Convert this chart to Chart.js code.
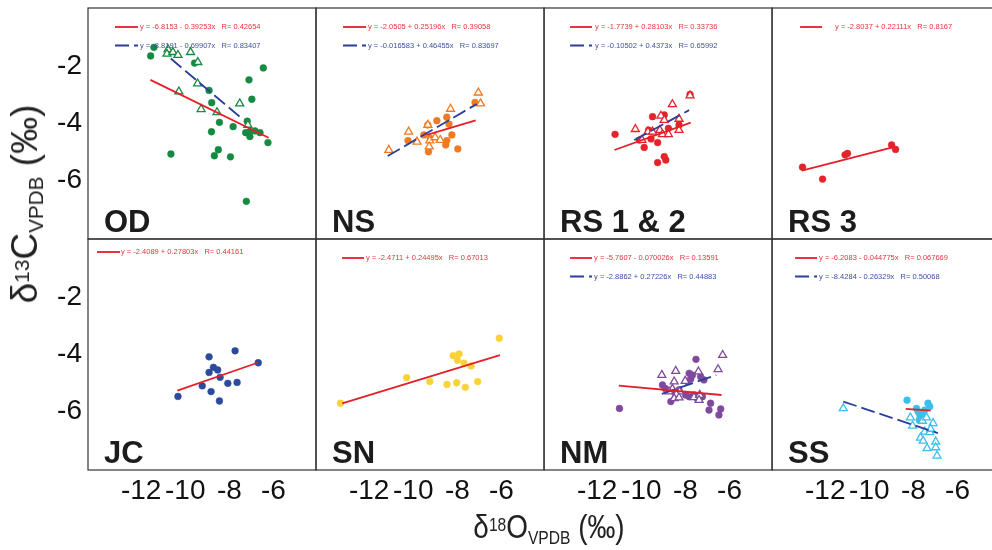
<!DOCTYPE html>
<html>
<head>
<meta charset="utf-8">
<script src="https://cdn.jsdelivr.net/npm/chart.js@4.4.1/dist/chart.umd.min.js"></script>
<style>
html, body { margin: 0; padding: 0; overflow: hidden; background: #fff; }
#wrap { position: absolute; left: 0; top: 0; width: 1006px; height: 550px; }
.title { position: absolute; font-family: "Liberation Sans", Arial, sans-serif; line-height: 36px; color: #222; white-space: nowrap; }
.title sup { font-size: 0.56em; vertical-align: 0.38em; line-height: 0; }
.title sub { font-size: 0.56em; vertical-align: -0.3em; line-height: 0; }
#xtitle { font-size: 34px; left: 549px; top: 508px; transform: translateX(-50%) scaleX(0.82); }
#ytitle { font-size: 37px; left: 25px; top: 204px; transform: translate(-50%, -50%) rotate(-90deg); }
</style>
</head>
<body>
<div id="wrap"><canvas id="chart"></canvas></div>
<div id="ytitle" class="title">δ<sup>13</sup>C<sub>VPDB</sub> (‰)</div>
<div id="xtitle" class="title">δ<sup>18</sup>O<sub>VPDB</sub> (‰)</div>
<script>
'use strict';

var panelNames = ['OD', 'NS', 'RS 1 & 2', 'RS 3', 'JC', 'SN', 'NM', 'SS'];
var xTicks = [-12, -10, -8, -6];
var yTicks = [-2, -4, -6];

var redEquations = [
  'y = -6.8153 - 0.39253x   R= 0.42654',
  'y = -2.0505 + 0.25196x   R= 0.39058',
  'y = -1.7739 + 0.28103x   R= 0.33736',
  'y = -2.8037 + 0.22111x   R= 0.8167',
  'y = -2.4089 + 0.27803x   R= 0.44161',
  'y = -2.4711 + 0.24495x   R= 0.67013',
  'y = -5.7607 - 0.070026x   R= 0.13591',
  'y = -6.2083 - 0.044775x   R= 0.067669'
];
var blueEquations = [
  'y = -8.8191 - 0.69907x   R= 0.83407',
  'y = -0.016583 + 0.46455x   R= 0.83697',
  'y = -0.10502 + 0.4373x   R= 0.65992',
  null, null, null,
  'y = -2.8862 + 0.27226x   R= 0.44883',
  'y = -8.4284 - 0.26329x   R= 0.50068'
];

// OD
var odCircles = [[-11.42,-1.33],[-11.57,-1.63],[-9.58,-1.88],[-6.46,-2.05],[-7.11,-2.47],[-8.92,-2.84],[-6.98,-3.15],[-8.80,-3.27],[-7.19,-3.92],[-8.45,-3.96],[-7.83,-4.11],[-8.81,-4.29],[-7.26,-4.32],[-7.07,-4.29],[-6.84,-4.26],[-6.61,-4.32],[-7.07,-4.46],[-6.25,-4.67],[-10.65,-5.07],[-8.50,-4.92],[-8.68,-5.13],[-7.95,-5.17],[-7.23,-6.73]];
var odTriangles = [[-10.78,-1.40],[-10.83,-1.56],[-10.56,-1.50],[-10.33,-1.60],[-9.76,-1.50],[-9.43,-1.85],[-9.44,-2.60],[-10.29,-2.88],[-9.28,-3.50],[-8.56,-3.61],[-7.53,-3.30],[-7.16,-4.05]];
var odRed = [[-11.58,-2.47],[-6.22,-4.50]];
var odBlue = [[-10.66,-1.72],[-7.47,-3.80]];

// NS
var nsCircles = [[-8.93,-3.90],[-8.48,-3.78],[-8.38,-4.02],[-10.24,-4.60],[-9.52,-4.40],[-9.23,-4.52],[-8.25,-4.40],[-8.48,-4.60],[-8.53,-4.75],[-9.31,-4.99],[-7.98,-4.89],[-7.20,-3.26],[-9.34,-4.05]];
var nsTriangles = [[-11.11,-4.93],[-10.21,-4.29],[-9.83,-4.64],[-9.34,-4.05],[-9.25,-4.60],[-9.01,-4.49],[-8.78,-4.58],[-9.28,-4.81],[-8.31,-3.49],[-7.05,-2.92],[-6.95,-3.30]];
var nsRed = [[-9.38,-4.40],[-7.17,-3.89]];
var nsBlue = [[-11.16,-5.14],[-7.13,-3.32]];

// RS 1 & 2
var rsCircles = [[-11.19,-4.38],[-9.87,-4.84],[-10.09,-4.58],[-9.67,-4.23],[-9.56,-4.54],[-9.26,-4.67],[-9.49,-3.76],[-8.96,-3.70],[-8.77,-4.17],[-8.29,-4.05],[-9.26,-5.37],[-8.96,-5.16],[-8.89,-5.28],[-7.79,-2.98]];
var rsTriangles = [[-10.27,-4.20],[-9.97,-4.58],[-9.70,-4.29],[-9.49,-4.29],[-9.16,-4.23],[-9.04,-4.38],[-8.77,-4.38],[-8.59,-3.33],[-9.11,-3.73],[-8.96,-3.88],[-8.29,-3.84],[-8.29,-4.23],[-7.79,-3.02]];
var rsRed = [[-11.22,-4.93],[-7.76,-3.97]];
var rsBlue = [[-10.32,-4.58],[-7.83,-3.53]];

// RS 3
var rs3Circles = [[-13.03,-5.53],[-12.12,-5.95],[-11.10,-5.10],[-10.99,-5.05],[-8.99,-4.75],[-8.81,-4.91]];
var rs3Red = [[-13.06,-5.65],[-8.95,-4.84]];

// JC
var jcCircles = [[-10.33,-5.47],[-9.23,-5.10],[-8.83,-5.30],[-8.45,-5.63],[-8.92,-4.63],[-8.72,-4.45],[-8.53,-4.54],[-8.42,-4.80],[-8.07,-5.01],[-7.65,-4.98],[-8.92,-4.08],[-7.74,-3.87],[-6.69,-4.29]];
var jcRed = [[-10.36,-5.27],[-6.72,-4.29]];

// SN
var snCircles = [[-13.30,-5.71],[-10.30,-4.81],[-9.25,-4.95],[-8.47,-5.05],[-8.03,-4.99],[-7.64,-5.15],[-7.08,-4.95],[-8.19,-4.04],[-7.92,-3.98],[-8.00,-4.20],[-7.70,-4.30],[-7.38,-4.40],[-6.10,-3.43]];
var snRed = [[-13.22,-5.71],[-6.07,-4.02]];

// NM
var nmCircles = [[-10.99,-5.89],[-7.52,-4.17],[-7.83,-4.66],[-7.68,-4.72],[-7.76,-4.86],[-7.91,-4.95],[-7.31,-4.78],[-7.16,-4.89],[-9.04,-5.07],[-8.92,-5.19],[-8.66,-5.65],[-8.51,-5.30],[-8.29,-5.24],[-7.99,-5.42],[-7.83,-5.48],[-7.61,-5.42],[-7.46,-5.54],[-7.23,-5.48],[-6.86,-5.71],[-6.93,-5.95],[-6.40,-5.91],[-6.48,-6.12]];
var nmTriangles = [[-9.07,-4.72],[-8.44,-4.58],[-7.41,-4.60],[-6.52,-4.52],[-6.31,-4.02],[-8.51,-4.95],[-8.01,-4.93],[-8.59,-5.21],[-8.74,-5.30],[-8.26,-5.30],[-8.41,-5.40],[-8.51,-5.54],[-8.29,-5.51],[-7.61,-5.50],[-7.35,-5.42],[-7.38,-5.60]];
var nmRed = [[-11.02,-5.09],[-6.36,-5.42]];
var nmBlue = [[-9.07,-5.38],[-6.60,-4.72]];

// SS
var ssCircles = [[-8.29,-5.60],[-7.86,-5.89],[-7.79,-6.00],[-7.71,-6.12],[-7.64,-6.06],[-7.56,-6.18],[-7.74,-6.30],[-7.34,-5.71],[-7.26,-5.83],[-7.49,-5.95]];
var ssTriangles = [[-11.18,-5.89],[-8.14,-6.21],[-8.04,-6.50],[-7.11,-6.41],[-7.59,-6.33],[-7.41,-6.21],[-7.68,-6.92],[-7.49,-6.71],[-7.26,-6.73],[-7.22,-6.61],[-7.56,-7.03],[-7.38,-7.29],[-6.99,-7.06],[-6.99,-7.26],[-6.93,-7.55]];
var ssRed = [[-8.35,-5.91],[-7.22,-5.97]];
var ssBlue = [[-11.18,-5.65],[-6.89,-6.76]];

var panels = [
  {color: '#178a42', circles: odCircles, triangles: odTriangles, red: odRed, blue: odBlue},
  {color: '#f07a22', circles: nsCircles, triangles: nsTriangles, red: nsRed, blue: nsBlue},
  {color: '#e4232b', circles: rsCircles, triangles: rsTriangles, red: rsRed, blue: rsBlue},
  {color: '#e4232b', circles: rs3Circles, triangles: null, red: rs3Red, blue: null},
  {color: '#2b4a9c', circles: jcCircles, triangles: null, red: jcRed, blue: null},
  {color: '#f9d23a', circles: snCircles, triangles: null, red: snRed, blue: null},
  {color: '#7f4a9e', circles: nmCircles, triangles: nmTriangles, red: nmRed, blue: nmBlue},
  {color: '#3dbfeb', circles: ssCircles, triangles: ssTriangles, red: ssRed, blue: ssBlue}
];

// legend placement inside each panel: [line start, line end, text start, first row y]
var legendAt = [[27,50,52,19],[27,50,52,19],[26,48,51,19],[28,50,63,19],[9,32,33,13],[26,48,50,19],[26,48,50,19],[23,45,47,19]];

var lineRed = '#e3202a';
var lineBlue = '#2b3f99';
var textRed = '#e2353d';
var textBlue = '#3d4ea1';

function pts(arr) {
  return arr.map(function(p) { return {x: p[0], y: p[1]}; });
}

var datasets = [];
panels.forEach(function(p, i) {
  var xa = 'x' + (i % 4 + 1);
  var ya = i < 4 ? 'yTop' : 'yBot';
  datasets.push({
    data: pts(p.circles), xAxisID: xa, yAxisID: ya, order: 3,
    pointStyle: 'circle', pointRadius: 3.4, borderWidth: 0.5,
    backgroundColor: p.color, borderColor: p.color
  });
  if (p.triangles) {
    datasets.push({
      data: pts(p.triangles), xAxisID: xa, yAxisID: ya, order: 2,
      pointStyle: 'triangle', pointRadius: 4.6, borderWidth: 1.3,
      backgroundColor: '#ffffff', borderColor: p.color
    });
  }
  datasets.push({
    data: pts(p.red), xAxisID: xa, yAxisID: ya, order: 1, panel: i,
    showLine: true, pointRadius: 0, borderColor: lineRed, borderWidth: 1.8
  });
  if (p.blue) {
    datasets.push({
      data: pts(p.blue), xAxisID: xa, yAxisID: ya, order: 1, panel: i,
      showLine: true, pointRadius: 0, borderColor: lineBlue, borderWidth: 1.8,
      borderDash: [14, 5]
    });
  }
});

function fixedTicks(values) {
  return function(axis) {
    axis.ticks = values.map(function(v) { return {value: v}; });
  };
}

var scales = {};
for (var c = 1; c <= 4; c++) {
  scales['x' + c] = {
    type: 'linear', position: 'bottom', stack: 'cols', min: -14.41, max: -4.07,
    grid: {display: false, drawTicks: false}, border: {display: false},
    afterBuildTicks: fixedTicks(xTicks),
    afterFit: function(axis) {
      axis.height = 80;
      axis.paddingLeft = 0;
      axis.paddingRight = 0;
    },
    ticks: {autoSkip: false, maxRotation: 0, minRotation: 0, padding: 4, color: '#111', font: {size: 28}}
  };
}
['yTop', 'yBot'].forEach(function(id, k) {
  scales[id] = {
    type: 'linear', position: 'left', stack: 'rows', weight: 1 - k, min: -8.05, max: 0.05,
    grid: {display: false, drawTicks: false}, border: {display: false},
    afterBuildTicks: fixedTicks(yTicks),
    afterFit: function(axis) {
      axis.width = 88;
      axis.paddingTop = 0;
      axis.paddingBottom = 0;
    },
    ticks: {autoSkip: false, padding: 6, color: '#111', font: {size: 28}}
  };
});

function panelBox(chart, i) {
  var xs = chart.scales['x' + (i % 4 + 1)];
  var ys = chart.scales[i < 4 ? 'yTop' : 'yBot'];
  return {left: xs.left, right: xs.right, top: ys.top, bottom: ys.bottom};
}

var panelDecor = {
  id: 'panelDecor',
  afterDraw: function(chart) {
    var ctx = chart.ctx;
    ctx.save();
    panelNames.forEach(function(name, i) {
      var b = panelBox(chart, i);
      ctx.strokeStyle = '#333';
      ctx.lineWidth = 1.2;
      ctx.setLineDash([]);
      ctx.strokeRect(b.left, b.top, b.right - b.left, b.bottom - b.top);

      ctx.fillStyle = '#1c1c1c';
      ctx.font = 'bold 31px "Liberation Sans", Arial, sans-serif';
      ctx.textAlign = 'left';
      ctx.textBaseline = 'alphabetic';
      ctx.fillText(name, b.left + 16, b.bottom - 7);

      var lg = legendAt[i];
      var rowsText = [[redEquations[i], textRed], [blueEquations[i], textBlue]];
      var fits = chart.data.datasets.filter(function(d) { return d.panel === i; });
      ctx.font = '7.5px "Liberation Sans", Arial, sans-serif';
      ctx.textBaseline = 'middle';
      fits.forEach(function(d, r) {
        var y = b.top + lg[3] + r * 18.5;
        ctx.strokeStyle = d.borderColor;
        ctx.lineWidth = 1.8;
        ctx.setLineDash(d.borderDash || []);
        ctx.beginPath();
        ctx.moveTo(b.left + lg[0], y);
        ctx.lineTo(b.left + lg[1], y);
        ctx.stroke();
        ctx.fillStyle = rowsText[r][1];
        ctx.fillText(rowsText[r][0], b.left + lg[2], y);
      });
    });
    ctx.restore();
  }
};

Chart.defaults.font.family = '"Liberation Sans", Arial, sans-serif';

new Chart(document.getElementById('chart'), {
  type: 'scatter',
  data: {datasets: datasets},
  options: {
    responsive: true,
    maintainAspectRatio: false,
    animation: false,
    devicePixelRatio: 1,
    layout: {padding: {left: 0, top: 8, right: 2, bottom: 0}},
    plugins: {legend: {display: false}, tooltip: {enabled: false}},
    scales: scales
  },
  plugins: [panelDecor]
});
</script>
</body>
</html>
